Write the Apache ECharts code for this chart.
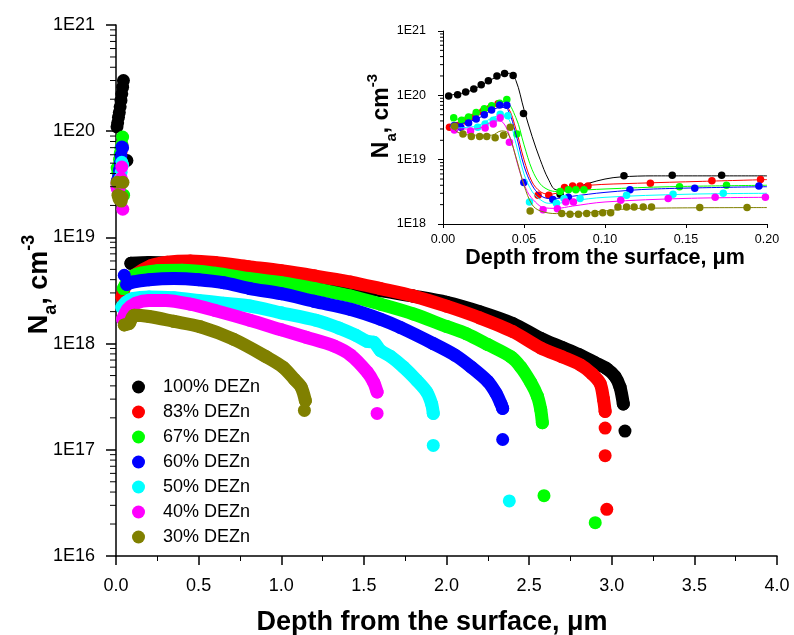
<!DOCTYPE html>
<html>
<head>
<meta charset="utf-8">
<script src="https://cdn.jsdelivr.net/npm/echarts@6/dist/echarts.min.js"></script>
<style>
  html, body { margin: 0; padding: 0; background: #ffffff; }
  #chart { width: 794px; height: 635px; }
</style>
</head>
<body>
<div id="chart"></div>
<script>
// Acceptor concentration profiles N_a(depth) for ZnO films grown with different DEZn fractions

const seriesNames = ['100% DEZn', '83% DEZn', '67% DEZn', '60% DEZn', '50% DEZn', '40% DEZn', '30% DEZn'];
const seriesColors = ['#000000', '#ff0000', '#00ff00', '#0000ff', '#00ffff', '#ff00ff', '#808000'];

// Near-surface points (depth in um, N_a in cm^-3)
const surf100 = [[0.006, 1.1e20], [0.010, 1.2e20], [0.015, 1.35e20], [0.020, 1.5e20], [0.025, 1.7e20], [0.030, 1.95e20], [0.035, 2.25e20], [0.040, 2.6e20], [0.045, 3.0e20], [0.066, 5.3e19]];
const surf83 = [[0.005, 3.2e19], [0.010, 3.4e19], [0.015, 4.0e19], [0.020, 4.6e19], [0.025, 5.6e19], [0.030, 6.3e19], [0.035, 7.4e19]];
const surf67 = [[0.007, 4.5e19], [0.012, 4.1e19], [0.016, 4.6e19], [0.021, 5.4e19], [0.026, 6.2e19], [0.030, 6.9e19], [0.035, 7.5e19], [0.040, 8.8e19], [0.046, 2.5e19]];
const surf60 = [[0.007, 3.4e19], [0.011, 3.2e19], [0.016, 3.7e19], [0.021, 4.3e19], [0.026, 5.0e19], [0.030, 5.9e19], [0.035, 7.1e19], [0.040, 7.0e19], [0.050, 4.4e18]];
const surf50 = [[0.007, 3.2e19], [0.021, 3.2e19], [0.026, 3.6e19], [0.031, 4.1e19], [0.035, 5.1e19], [0.040, 4.8e19]];
const surf40 = [[0.007, 2.9e19], [0.017, 2.8e19], [0.026, 3.1e19], [0.031, 3.6e19], [0.035, 4.6e19], [0.041, 1.84e19]];
const surf30 = [[0.007, 3.3e19], [0.012, 2.5e19], [0.018, 2.3e19], [0.023, 2.35e19], [0.027, 2.3e19], [0.032, 2.2e19], [0.037, 2.4e19], [0.042, 3.3e19]];

// Bulk profiles
const bulk100 = [[0.09, 5.7e18], [0.2, 5.8e18], [0.35, 5.75e18], [0.5, 5.6e18], [0.7, 5.3e18], [0.9, 4.95e18], [1.1, 4.45e18], [1.3, 3.9e18], [1.42, 3.55e18], [1.6, 3.15e18], [1.8, 2.8e18], [2.0, 2.45e18], [2.2, 2.0e18], [2.4, 1.55e18], [2.57, 1.12e18], [2.7, 9.2e17], [2.8, 7.9e17], [2.9, 6.6e17], [2.97, 5.8e17], [3.02, 4.9e17], [3.05, 3.9e17], [3.07, 2.7e17]];
const bulk83 = [[0.036, 2.75e18], [0.06, 3.6e18], [0.107, 4.35e18], [0.21, 5.4e18], [0.31, 5.85e18], [0.45, 6.0e18], [0.6, 5.8e18], [0.8, 5.3e18], [1.0, 4.85e18], [1.2, 4.35e18], [1.42, 3.8e18], [1.6, 3.3e18], [1.8, 2.8e18], [2.0, 2.25e18], [2.2, 1.75e18], [2.4, 1.3e18], [2.57, 9.1e17], [2.7, 7.5e17], [2.81, 6.3e17], [2.88, 5.2e17], [2.93, 4.2e17], [2.95, 3.0e17], [2.96, 2.3e17]];
const bulk67 = [[0.045, 3.3e18], [0.07, 3.9e18], [0.1, 4.3e18], [0.15, 4.6e18], [0.25, 4.85e18], [0.4, 4.9e18], [0.6, 4.6e18], [0.8, 4.1e18], [1.0, 3.75e18], [1.2, 3.3e18], [1.42, 2.8e18], [1.6, 2.35e18], [1.8, 1.9e18], [2.0, 1.45e18], [2.12, 1.24e18], [2.25, 9.8e17], [2.39, 7.5e17], [2.45, 6.0e17], [2.51, 4.3e17], [2.55, 3.2e17], [2.57, 2.4e17], [2.58, 1.8e17]];
const bulk60 = [[0.065, 3.6e18], [0.1, 3.8e18], [0.2, 4.0e18], [0.35, 4.1e18], [0.5, 4.0e18], [0.65, 3.75e18], [0.81, 3.3e18], [1.0, 2.95e18], [1.2, 2.5e18], [1.42, 2.1e18], [1.6, 1.7e18], [1.72, 1.42e18], [1.92, 1.0e18], [2.05, 7.8e17], [2.15, 6.0e17], [2.25, 4.4e17], [2.3, 3.4e17], [2.33, 2.7e17], [2.34, 2.45e17]];
const bulk50 = [[0.035, 2.2e18], [0.06, 2.45e18], [0.1, 2.65e18], [0.2, 2.75e18], [0.35, 2.7e18], [0.5, 2.55e18], [0.65, 2.4e18], [0.81, 2.26e18], [1.0, 1.95e18], [1.21, 1.66e18], [1.35, 1.4e18], [1.45, 1.2e18], [1.52, 1.05e18], [1.56, 1.03e18], [1.6, 8.6e17], [1.66, 7.6e17], [1.74, 6.0e17], [1.82, 4.5e17], [1.88, 3.5e17], [1.91, 2.7e17], [1.92, 2.2e17]];
const bulk40 = [[0.04, 1.7e18], [0.07, 2.1e18], [0.12, 2.4e18], [0.2, 2.55e18], [0.3, 2.55e18], [0.45, 2.35e18], [0.6, 2.05e18], [0.81, 1.66e18], [1.0, 1.35e18], [1.15, 1.15e18], [1.32, 9.5e17], [1.42, 7.8e17], [1.52, 5.4e17], [1.56, 4.3e17], [1.58, 3.5e17]];
const bulk30 = [[0.05, 1.5e18], [0.08, 1.55e18], [0.11, 1.85e18], [0.2, 1.8e18], [0.35, 1.62e18], [0.51, 1.44e18], [0.71, 1.1e18], [0.91, 7.5e17], [1.01, 6.0e17], [1.08, 4.6e17], [1.12, 3.9e17], [1.146, 2.9e17]];

// Isolated points beyond the end of each profile
const tail100 = [[3.08, 1.5e17]];
const tail83 = [[2.96, 1.6e17], [2.96, 8.8e16], [2.97, 2.75e16]];
const tail67 = [[2.59, 3.7e16], [2.90, 2.06e16]];
const tail60 = [[2.34, 1.25e17]];
const tail50 = [[1.92, 1.1e17], [2.38, 3.3e16]];
const tail40 = [[1.58, 2.2e17]];
const tail30 = [[1.14, 2.35e17]];

// Inset: first 0.2 um, measured points
const ins100 = [[0.0035, 9.8e19], [0.009, 1.02e20], [0.014, 1.13e20], [0.019, 1.25e20], [0.0236, 1.46e20], [0.028, 1.68e20], [0.0333, 2.0e20], [0.038, 2.18e20], [0.0433, 2.03e20], [0.0497, 5.2e19], [0.0723, 2.9e18], [0.1117, 5.6e18], [0.1415, 5.7e18], [0.172, 5.7e18]];
const ins83 = [[0.004, 3.2e19], [0.009, 3.4e19], [0.014, 4.0e19], [0.019, 4.6e19], [0.0245, 5.6e19], [0.029, 6.3e19], [0.034, 7.4e19], [0.0587, 2.8e18], [0.0653, 2.8e18], [0.075, 3.7e18], [0.080, 3.9e18], [0.0846, 3.9e18], [0.0895, 3.9e18], [0.128, 4.3e18], [0.166, 4.7e18], [0.196, 4.9e18]];
const ins67 = [[0.0066, 4.5e19], [0.0115, 4.1e19], [0.0158, 4.6e19], [0.0205, 5.4e19], [0.0255, 6.2e19], [0.030, 6.9e19], [0.035, 7.5e19], [0.0394, 8.6e19], [0.0456, 2.5e19], [0.0723, 3.2e18], [0.0774, 3.4e18], [0.082, 3.4e18], [0.087, 3.4e18], [0.146, 3.8e18], [0.175, 4.0e18]];
const ins60 = [[0.007, 3.4e19], [0.011, 3.2e19], [0.0158, 3.7e19], [0.0205, 4.3e19], [0.0255, 5.0e19], [0.030, 5.9e19], [0.035, 7.1e19], [0.0394, 7.0e19], [0.0499, 4.4e18], [0.0678, 2.4e18], [0.0774, 2.6e18], [0.1154, 3.4e18], [0.1554, 3.6e18], [0.195, 3.9e18]];
const ins50 = [[0.007, 3.2e19], [0.0214, 3.2e19], [0.026, 3.6e19], [0.031, 4.1e19], [0.0353, 5.1e19], [0.040, 4.8e19], [0.0534, 2.2e18], [0.070, 2.1e18], [0.0747, 2.5e18], [0.0846, 2.5e18], [0.1133, 2.8e18], [0.142, 2.9e18], [0.173, 3.0e18]];
const ins40 = [[0.007, 2.9e19], [0.017, 2.8e19], [0.026, 3.1e19], [0.031, 3.6e19], [0.0353, 4.5e19], [0.041, 1.86e19], [0.0618, 1.67e18], [0.0706, 1.73e18], [0.0758, 2.2e18], [0.0805, 2.2e18], [0.1097, 2.35e18], [0.139, 2.5e18], [0.168, 2.6e18], [0.199, 2.6e18]];
const ins30 = [[0.0072, 3.3e19], [0.0123, 2.5e19], [0.0175, 2.3e19], [0.0226, 2.3e19], [0.027, 2.3e19], [0.0322, 2.2e19], [0.0374, 2.4e19], [0.0415, 3.2e19], [0.0538, 1.59e18], [0.0733, 1.46e18], [0.0784, 1.42e18], [0.0836, 1.42e18], [0.0887, 1.45e18], [0.0938, 1.46e18], [0.0986, 1.5e18], [0.1035, 1.5e18], [0.108, 1.83e18], [0.1133, 1.83e18], [0.118, 1.83e18], [0.1236, 1.83e18], [0.1287, 1.83e18], [0.1585, 1.8e18], [0.1877, 1.8e18]];

// Inset: fitted model curves
const fit100 = [[0.003, 1.0e20], [0.015, 1.13e20], [0.025, 1.5e20], [0.035, 2.05e20], [0.041, 2.2e20], [0.045, 1.7e20], [0.050, 6.0e19], [0.055, 2.3e19], [0.060, 1.0e19], [0.065, 5.0e18], [0.070, 3.4e18], [0.080, 3.6e18], [0.090, 4.3e18], [0.100, 5.0e18], [0.110, 5.4e18], [0.130, 5.6e18], [0.200, 5.6e18]];
const fit83 = [[0.004, 3.1e19], [0.020, 4.6e19], [0.035, 7.0e19], [0.040, 6.5e19], [0.045, 3.0e19], [0.050, 1.0e19], [0.055, 4.5e18], [0.060, 3.2e18], [0.065, 2.9e18], [0.070, 3.0e18], [0.080, 3.6e18], [0.090, 4.0e18], [0.120, 4.3e18], [0.160, 4.6e18], [0.200, 4.9e18]];
const fit67 = [[0.005, 4.0e19], [0.020, 5.2e19], [0.038, 8.0e19], [0.045, 4.5e19], [0.050, 1.7e19], [0.055, 7.0e18], [0.060, 4.2e18], [0.065, 3.4e18], [0.070, 3.2e18], [0.080, 3.3e18], [0.100, 3.5e18], [0.140, 3.8e18], [0.200, 4.0e18]];
const fit60 = [[0.004, 3.3e19], [0.020, 4.2e19], [0.036, 6.5e19], [0.040, 6.0e19], [0.045, 2.5e19], [0.050, 8.0e18], [0.055, 4.0e18], [0.060, 2.8e18], [0.065, 2.5e18], [0.070, 2.5e18], [0.080, 2.7e18], [0.100, 3.1e18], [0.130, 3.5e18], [0.200, 3.8e18]];
const fit50 = [[0.005, 3.1e19], [0.020, 3.3e19], [0.035, 4.8e19], [0.040, 4.5e19], [0.045, 1.8e19], [0.050, 6.0e18], [0.055, 3.2e18], [0.060, 2.4e18], [0.065, 2.1e18], [0.070, 2.1e18], [0.080, 2.3e18], [0.100, 2.6e18], [0.150, 2.9e18], [0.200, 3.0e18]];
const fit40 = [[0.005, 3.0e19], [0.020, 3.0e19], [0.033, 4.0e19], [0.037, 3.8e19], [0.042, 2.0e19], [0.047, 7.0e18], [0.052, 3.2e18], [0.057, 2.2e18], [0.062, 1.8e18], [0.070, 1.75e18], [0.080, 1.9e18], [0.100, 2.2e18], [0.150, 2.5e18], [0.200, 2.6e18]];
const fit30 = [[0.005, 3.3e19], [0.010, 2.6e19], [0.020, 2.4e19], [0.030, 2.4e19], [0.036, 2.8e19], [0.040, 2.6e19], [0.045, 1.1e19], [0.050, 4.0e18], [0.055, 2.0e18], [0.060, 1.6e18], [0.070, 1.45e18], [0.080, 1.45e18], [0.100, 1.6e18], [0.120, 1.75e18], [0.200, 1.8e18]];

// Axis ticks
const mainDecades = [16, 17, 18, 19, 20];
const insetDecades = [18, 19, 20];
const logMinorMultipliers = [2, 3, 4, 5, 6, 7, 8, 9];

const surfSets = [surf100, surf83, surf67, surf60, surf50, surf40, surf30];
const bulkSets = [bulk100, bulk83, bulk67, bulk60, bulk50, bulk40, bulk30];
const tailSets = [tail100, tail83, tail67, tail60, tail50, tail40, tail30];
const insSets = [ins100, ins83, ins67, ins60, ins50, ins40, ins30];
const fitSets = [fit100, fit83, fit67, fit60, fit50, fit40, fit30];

const FONT = '"Liberation Sans", Arial, Helvetica, sans-serif';

function minorTickData(decades) {
  const out = [];
  decades.forEach(d => logMinorMultipliers.forEach(m => out.push([0, m * Math.pow(10, d)])));
  return out;
}

function minorTickSeries(xi, yi, decades, len) {
  return {
    type: 'custom', xAxisIndex: xi, yAxisIndex: yi, silent: true, clip: false, z: 60,
    data: minorTickData(decades),
    renderItem: function (params, api) {
      const p = api.coord([api.value(0), api.value(1)]);
      return { type: 'line', shape: { x1: p[0] - len, y1: p[1], x2: p[0], y2: p[1] },
               style: { stroke: '#000', lineWidth: 1 } };
    }
  };
}

const logLabel = v => '1E' + Math.round(Math.log10(v));

const mainRich = {
  b: { fontFamily: FONT, fontSize: 27, fontWeight: 'bold', color: '#000', lineHeight: 40 },
  s: { fontFamily: FONT, fontSize: 18, fontWeight: 'bold', color: '#000', lineHeight: 18, verticalAlign: 'bottom' },
  p: { fontFamily: FONT, fontSize: 18, fontWeight: 'bold', color: '#000', lineHeight: 18, verticalAlign: 'top' }
};
const insetRich = {
  b: { fontFamily: FONT, fontSize: 23, fontWeight: 'bold', color: '#000', lineHeight: 34 },
  s: { fontFamily: FONT, fontSize: 15, fontWeight: 'bold', color: '#000', lineHeight: 15, verticalAlign: 'bottom' },
  p: { fontFamily: FONT, fontSize: 15, fontWeight: 'bold', color: '#000', lineHeight: 15, verticalAlign: 'top' }
};
const yTitle = '{b|N}{s|a}{b|, cm}{p|-3}';

const series = [];
seriesNames.forEach((name, i) => {
  const color = seriesColors[i];
  // each profile sits fully above the previous one
  series.push({
    type: 'line', name: name, xAxisIndex: 0, yAxisIndex: 0, data: bulkSets[i],
    smooth: 0.3, symbol: 'circle', symbolSize: 13, showSymbol: true,
    itemStyle: { color: color }, lineStyle: { color: color, width: 13, cap: 'round', join: 'round' },
    z: 10 + 2 * i, animation: false
  });
  series.push({
    type: 'scatter', name: name, xAxisIndex: 0, yAxisIndex: 0, data: surfSets[i].concat(tailSets[i]),
    symbol: 'circle', symbolSize: 13, itemStyle: { color: color, opacity: 1 }, z: 11 + 2 * i, animation: false
  });
});
seriesNames.forEach((name, i) => {
  const color = seriesColors[i];
  series.push({
    type: 'line', name: name, xAxisIndex: 1, yAxisIndex: 1, data: fitSets[i],
    smooth: 0.35, showSymbol: false, lineStyle: { color: color, width: 1 }, itemStyle: { color: color },
    z: 30 + 2 * i, animation: false
  });
  series.push({
    type: 'scatter', name: name, xAxisIndex: 1, yAxisIndex: 1, data: insSets[i],
    symbol: 'circle', symbolSize: 7.5, itemStyle: { color: color, opacity: 1 }, z: 31 + 2 * i, animation: false
  });
});
series.push(minorTickSeries(0, 0, mainDecades, 6));
series.push(minorTickSeries(1, 1, insetDecades, 3));

const axisLineStyle = { color: '#000', width: 1.5 };

const option = {
  backgroundColor: '#ffffff',
  animation: false,
  grid: [
    { left: 116, top: 25, width: 661, height: 531, containLabel: false, outerBoundsMode: 'none' },
    { left: 443, top: 31, width: 324, height: 193, containLabel: false, outerBoundsMode: 'none' }
  ],
  legend: {
    data: seriesNames, orient: 'vertical', left: 132, top: 378, padding: 0,
    icon: 'circle', itemWidth: 13, itemHeight: 13, itemGap: 7, selectedMode: false,
    textStyle: { fontFamily: FONT, fontSize: 18, color: '#000', lineHeight: 18, padding: [0, 0, 0, 13] }
  },
  xAxis: [
    {
      gridIndex: 0, type: 'value', min: 0, max: 4, interval: 0.5,
      axisLine: { show: true, onZero: false, lineStyle: axisLineStyle },
      axisTick: { show: true, length: 9, lineStyle: { color: '#000', width: 1.5 } },
      minorTick: { show: true, splitNumber: 2, length: 5, lineStyle: { color: '#000', width: 1 } },
      splitLine: { show: false },
      axisLabel: { formatter: v => v.toFixed(1), fontFamily: FONT, fontSize: 18, color: '#000', margin: 21 },
      name: 'Depth from the surface, μm', nameLocation: 'middle', nameGap: 53, nameMoveOverlap: false,
      nameTextStyle: { fontFamily: FONT, fontSize: 27, fontWeight: 'bold', color: '#000', padding: [0, 29, 0, 0] }
    },
    {
      gridIndex: 1, type: 'value', min: 0, max: 0.2, interval: 0.05,
      axisLine: { show: true, onZero: false, lineStyle: { color: '#000', width: 1 } },
      axisTick: { show: true, length: 4, lineStyle: { color: '#000', width: 1 } },
      splitLine: { show: false },
      axisLabel: { formatter: v => v.toFixed(2), fontFamily: FONT, fontSize: 12.5, color: '#000', margin: 9 },
      name: 'Depth from the surface, μm', nameLocation: 'middle', nameGap: 23, nameMoveOverlap: false,
      nameTextStyle: { fontFamily: FONT, fontSize: 21.5, fontWeight: 'bold', color: '#000' }
    }
  ],
  yAxis: [
    {
      gridIndex: 0, type: 'log', logBase: 10, min: 1e16, max: 1e21,
      axisLine: { show: true, onZero: false, lineStyle: axisLineStyle },
      axisTick: { show: true, length: 10, lineStyle: { color: '#000', width: 1.5 } },
      splitLine: { show: false },
      axisLabel: { formatter: logLabel, fontFamily: FONT, fontSize: 18, color: '#000', margin: 21 },
      name: yTitle, nameLocation: 'middle', nameRotate: 90, nameGap: 56, nameMoveOverlap: false,
      nameTextStyle: { rich: mainRich, padding: [0, 0, 0, 12] }
    },
    {
      gridIndex: 1, type: 'log', logBase: 10, min: 1e18, max: 1e21,
      axisLine: { show: true, onZero: false, lineStyle: { color: '#000', width: 1 } },
      axisTick: { show: true, length: 5, lineStyle: { color: '#000', width: 1 } },
      splitLine: { show: false },
      axisLabel: { formatter: logLabel, fontFamily: FONT, fontSize: 12.5, color: '#000', margin: 17 },
      name: yTitle, nameLocation: 'middle', nameRotate: 90, nameGap: 44, nameMoveOverlap: false,
      nameTextStyle: { rich: insetRich, padding: [0, 0, 0, 23] }
    }
  ],
  series: series
};

const chart = echarts.init(document.getElementById('chart'), null, { renderer: 'canvas' });
chart.setOption(option);
</script>
</body>
</html>
